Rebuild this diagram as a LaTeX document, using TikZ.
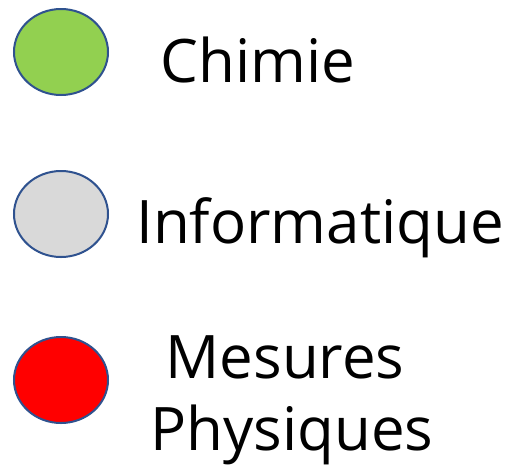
\documentclass[tikz,border=0pt]{standalone}
\usepackage{fontspec}
\setmainfont{Open Sans}
\usetikzlibrary{shapes.geometric}
\definecolor{chimie}{HTML}{92D050}
\definecolor{info}{HTML}{D9D9D9}
\definecolor{mesure}{HTML}{FF0000}
\definecolor{rim}{HTML}{2F528F}

\begin{document}
\begin{tikzpicture}[x=1pt,y=-1pt,
        dot/.style={draw=rim, line width=2pt, ellipse, minimum width=94pt, minimum height=86pt, inner sep=0pt},
        lbl/.style={font=\fontsize{60}{72}\selectfont, inner sep=0pt, align=center}]
        \useasboundingbox (0,0) rectangle (510,467);

        % Draw the legend dots
        \node[dot, fill=chimie] (chim) at (61, 52) {};
        \node[dot, fill=info] (info) at (61, 214) {};
        \node[dot, fill=mesure] (mes) at (61, 380) {};

        % Draw the labels
        \node[lbl, anchor=base] (tchim) at (258, 82) {Chimie};
        \node[lbl, anchor=base] (tinfo) at (320, 243) {Informatique};
        \node[lbl, anchor=base] (tmes) at (285, 378) {Mesures};
        \node[lbl, anchor=base] (tphys) at (292, 450) {Physiques};
\end{tikzpicture}
\end{document}
